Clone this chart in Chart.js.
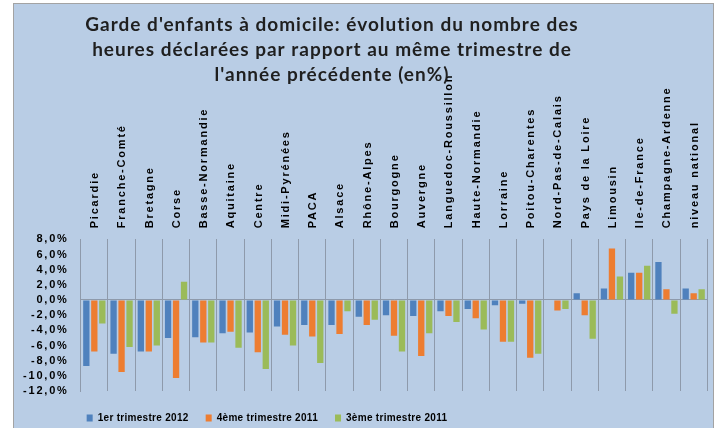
<!DOCTYPE html>
<html lang="fr">
<head>
    <meta charset="UTF-8">
    <title>Garde d'enfants à domicile</title>
    <style>
        body { margin: 0; background: #ffffff; }
        canvas { display: block; }
    </style>
</head>
<body>
    <canvas id="myChart" width="717" height="428"></canvas>

    <script src="https://cdn.jsdelivr.net/npm/chart.js@4.4.0/dist/chart.umd.min.js"></script>
    <script>
        const regions = ['Picardie', 'Franche-Comté', 'Bretagne', 'Corse', 'Basse-Normandie', 'Aquitaine',
            'Centre', 'Midi-Pyrénées', 'PACA', 'Alsace', 'Rhône-Alpes', 'Bourgogne', 'Auvergne',
            'Languedoc-Roussillon', 'Haute-Normandie', 'Lorraine', 'Poitou-Charentes', 'Nord-Pas-de-Calais',
            'Pays de la Loire', 'Limousin', 'Ile-de-France', 'Champagne-Ardenne', 'niveau national'];

        const trim1_2012 = [-8.7, -7.1, -6.8, -5.0, -4.9, -4.4, -4.3, -3.5, -3.3, -3.3, -2.2, -2.0, -2.1,
            -1.5, -1.2, -0.7, -0.5, 0, 0.9, 1.5, 3.6, 5.0, 1.5];
        const trim4_2011 = [-6.8, -9.5, -6.8, -10.3, -5.6, -4.2, -6.9, -4.6, -4.8, -4.5, -3.3, -4.7, -7.4,
            -2.1, -2.4, -5.5, -7.6, -1.4, -2.0, 6.8, 3.6, 1.4, 0.9];
        const trim3_2011 = [-3.1, -6.2, -6.0, 2.4, -5.6, -6.3, -9.1, -6.0, -8.3, -1.5, -2.6, -6.8, -4.4,
            -2.9, -3.9, -5.5, -7.1, -1.2, -5.1, 3.1, 4.5, -1.8, 1.4];

        const seriesNames = ['1er trimestre 2012', '4ème trimestre 2011', '3ème trimestre 2011'];
        const seriesColors = ['#4f81bd', '#ed7d31', '#9bbb59'];

        const titleLines = [
            "Garde d'enfants à domicile: évolution du nombre des",
            "heures déclarées par rapport au même trimestre de",
            "l'année précédente (en%)"
        ];

        const yMin = -12, yMax = 8, yStep = 2;

        const gridGray = '#8e9aab';

        // fond du graphique, titre et réglage de l'espacement des lettres
        const excelLook = {
            id: 'excelLook',
            beforeLayout(chart) {
                chart.ctx.letterSpacing = '0.3px';
            },
            afterLayout(chart) {
                const lg = chart.legend;
                const shift = 267 - (lg.left + lg.right) / 2;
                lg.left += shift;
                lg.right += shift;
                lg.top = 396;
                lg.bottom = lg.top + lg.height;
            },
            beforeDraw(chart) {
                const ctx = chart.ctx;
                ctx.save();
                ctx.fillStyle = '#ffffff';
                ctx.fillRect(0, 0, chart.width, chart.height);
                ctx.fillStyle = '#b9cde5';
                ctx.fillRect(13, 3, 700, 430);
                ctx.strokeStyle = '#a3a3a3';
                ctx.lineWidth = 1;
                ctx.strokeRect(13.5, 3.5, 700, 430);
                ctx.restore();
                ctx.letterSpacing = '0.3px';
            },
            afterDatasetsDraw(chart) {
                chart.ctx.letterSpacing = '1.8px';
            },
            afterDraw(chart) {
                const ctx = chart.ctx;
                ctx.save();
                ctx.letterSpacing = '1px';
                ctx.font = 'bold 19px Lato';
                ctx.fillStyle = '#1f1f1f';
                ctx.textAlign = 'center';
                ctx.textBaseline = 'middle';
                titleLines.forEach((line, i) => {
                    ctx.fillText(line, 332, 25 + i * 25);
                });
                ctx.restore();
                ctx.letterSpacing = '0px';
            }
        };

        const ctx = document.getElementById('myChart').getContext('2d');
        const myChart = new Chart(ctx, {
            type: 'bar',
            data: {
                labels: regions,
                datasets: [trim1_2012, trim4_2011, trim3_2011].map((values, i) => ({
                    label: seriesNames[i],
                    data: values,
                    backgroundColor: seriesColors[i],
                    borderWidth: 0,
                    categoryPercentage: 0.88,
                    barPercentage: 0.79
                }))
            },
            options: {
                responsive: false,
                animation: false,
                events: [],
                layout: {
                    padding: { top: 60, left: 13, right: 9.7, bottom: 0 }
                },
                scales: {
                    x: {
                        position: 'top',
                        afterFit(scale) { scale.height = 179.3; },
                        grid: {
                            offset: true,
                            color: gridGray,
                            lineWidth: 1,
                            drawTicks: false
                        },
                        border: { display: false },
                        ticks: {
                            z: 1,
                            autoSkip: false,
                            minRotation: 90,
                            maxRotation: 90,
                            padding: 11,
                            labelOffset: 14,
                            color: '#000000',
                            font: { family: 'Liberation Sans', size: 11, weight: 'bold' }
                        }
                    },
                    y: {
                        min: yMin,
                        max: yMax,
                        afterFit(scale) { scale.width = 67.7; },
                        grid: {
                            color: (c) => c.tick && c.tick.value === 0 ? gridGray : 'transparent',
                            drawTicks: false
                        },
                        border: { display: true, color: gridGray, width: 1 },
                        ticks: {
                            z: 1,
                            autoSkip: false,
                            stepSize: yStep,
                            padding: 12,
                            color: '#000000',
                            font: { family: 'Liberation Sans', size: 11, weight: 'bold' },
                            callback: (v) => v.toFixed(1).replace('.', ',') + '%'
                        }
                    }
                },
                plugins: {
                    title: { display: false },
                    tooltip: { enabled: false },
                    legend: {
                        position: 'bottom',
                        maxHeight: 44,
                        labels: {
                            boxWidth: 6,
                            boxHeight: 7,
                            padding: 17,
                            color: '#000000',
                            font: { family: 'Liberation Sans', size: 10, weight: 'bold' }
                        }
                    }
                }
            },
            plugins: [excelLook]
        });
    </script>
</body>
</html>
